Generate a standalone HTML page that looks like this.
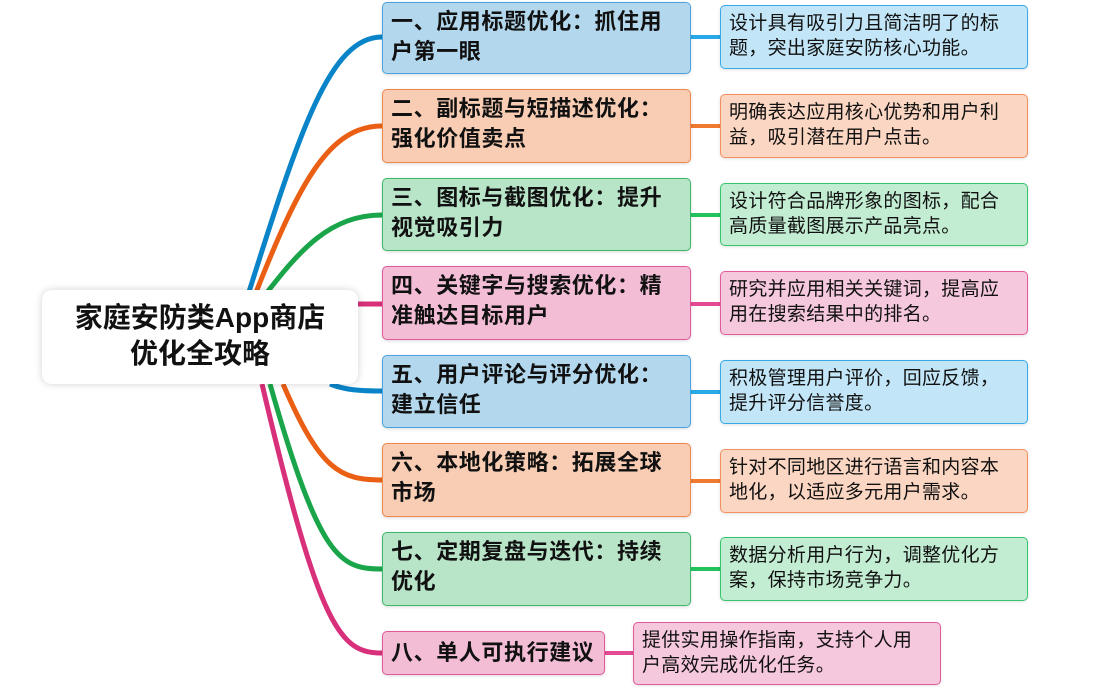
<!DOCTYPE html>
<html><head><meta charset="utf-8"><style>
body{margin:0;width:1098px;height:687px;background:#fff;position:relative;overflow:hidden;font-family:"Liberation Sans","Noto Sans CJK SC",sans-serif}
.b{position:absolute;box-sizing:border-box;border:1.5px solid;border-radius:5px;padding:4px 0 0 8px;font-weight:bold;font-size:22px;letter-spacing:0.6px;line-height:30px;color:#111;box-shadow:0 1px 3px rgba(0,0,0,.15);white-space:nowrap}
.r{position:absolute;box-sizing:border-box;border:1.5px solid;border-radius:5px;padding:5px 0 0 8px;font-size:19px;letter-spacing:0.3px;line-height:25px;color:#111;box-shadow:0 1px 3px rgba(0,0,0,.12);white-space:nowrap}
.bl{background:#b3d8ee;border-color:#4aa3df}.rbl{background:#c2e5f7;border-color:#39a9e8}
.or{background:#f8cdb4;border-color:#f0874a}.ror{background:#fbd6c2;border-color:#f39060}
.gr{background:#b8e4c8;border-color:#3cb86a}.rgr{background:#c3edd3;border-color:#35c56a}
.pk{background:#f3bdd6;border-color:#e05a9a}.rpk{background:#f6c8dd;border-color:#e35a9c}
.c{position:absolute;left:42px;top:290px;width:316px;height:94px;background:#fff;border-radius:10px;box-shadow:0 0 8px rgba(0,0,0,.18);font-weight:bold;font-size:28px;line-height:36px;text-align:center;padding-top:10px;box-sizing:border-box;color:#111;white-space:nowrap}
</style></head><body>
<svg width="1098" height="687" style="position:absolute;left:0;top:0">
<g fill="none" stroke-width="5">
<path d="M248 295 C300 130,330 37,382 37" stroke="#0a84c8"/>
<path d="M255 295 C300 180,330 126,382 126" stroke="#ea5f14"/>
<path d="M265 295 C300 250,330 215,382 215" stroke="#1aa54a"/>
<path d="M358 304 L382 304" stroke="#d8307a"/>
<path d="M330 384 C345 390,360 391,382 391" stroke="#0a84c8"/>
<path d="M283 384 C320 470,340 480,382 480" stroke="#ea5f14"/>
<path d="M270 384 C320 560,340 569,382 569" stroke="#1aa54a"/>
<path d="M262 384 C320 630,340 653,382 653" stroke="#d8307a"/>
</g>
<g stroke-width="4">
<line x1="691" y1="37" x2="720" y2="37" stroke="#29a8e8"/>
<line x1="691" y1="126" x2="720" y2="126" stroke="#f07a30"/>
<line x1="691" y1="215" x2="720" y2="215" stroke="#22c35e"/>
<line x1="691" y1="304" x2="720" y2="304" stroke="#e44a94"/>
<line x1="691" y1="392" x2="720" y2="392" stroke="#29a8e8"/>
<line x1="691" y1="481" x2="720" y2="481" stroke="#f07a30"/>
<line x1="691" y1="569" x2="720" y2="569" stroke="#22c35e"/>
<line x1="605" y1="653" x2="633" y2="653" stroke="#e44a94"/>
</g></svg>
<div class="c">家庭安防类App商店<br>优化全攻略</div>
<div class="b bl" style="left:382px;top:2px;width:309px;height:72px">一、应用标题优化：抓住用<br>户第一眼</div>
<div class="b or" style="left:382px;top:89px;width:309px;height:74px">二、副标题与短描述优化：<br>强化价值卖点</div>
<div class="b gr" style="left:382px;top:178px;width:309px;height:73px">三、图标与截图优化：提升<br>视觉吸引力</div>
<div class="b pk" style="left:382px;top:266px;width:309px;height:74px">四、关键字与搜索优化：精<br>准触达目标用户</div>
<div class="b bl" style="left:382px;top:355px;width:309px;height:73px">五、用户评论与评分优化：<br>建立信任</div>
<div class="b or" style="left:382px;top:443px;width:309px;height:74px">六、本地化策略：拓展全球<br>市场</div>
<div class="b gr" style="left:382px;top:532px;width:309px;height:74px">七、定期复盘与迭代：持续<br>优化</div>
<div class="b pk" style="left:382px;top:631px;width:223px;height:44px;padding-top:6px">八、单人可执行建议</div>
<div class="r rbl" style="left:720px;top:5px;width:308px;height:64px">设计具有吸引力且简洁明了的标<br>题，突出家庭安防核心功能。</div>
<div class="r ror" style="left:720px;top:94px;width:308px;height:64px">明确表达应用核心优势和用户利<br>益，吸引潜在用户点击。</div>
<div class="r rgr" style="left:720px;top:183px;width:308px;height:63px">设计符合品牌形象的图标，配合<br>高质量截图展示产品亮点。</div>
<div class="r rpk" style="left:720px;top:271px;width:308px;height:64px">研究并应用相关关键词，提高应<br>用在搜索结果中的排名。</div>
<div class="r rbl" style="left:720px;top:360px;width:308px;height:64px">积极管理用户评价，回应反馈，<br>提升评分信誉度。</div>
<div class="r ror" style="left:720px;top:449px;width:308px;height:64px">针对不同地区进行语言和内容本<br>地化，以适应多元用户需求。</div>
<div class="r rgr" style="left:720px;top:537px;width:308px;height:64px">数据分析用户行为，调整优化方<br>案，保持市场竞争力。</div>
<div class="r rpk" style="left:633px;top:622px;width:308px;height:63px">提供实用操作指南，支持个人用<br>户高效完成优化任务。</div>
</body></html>
